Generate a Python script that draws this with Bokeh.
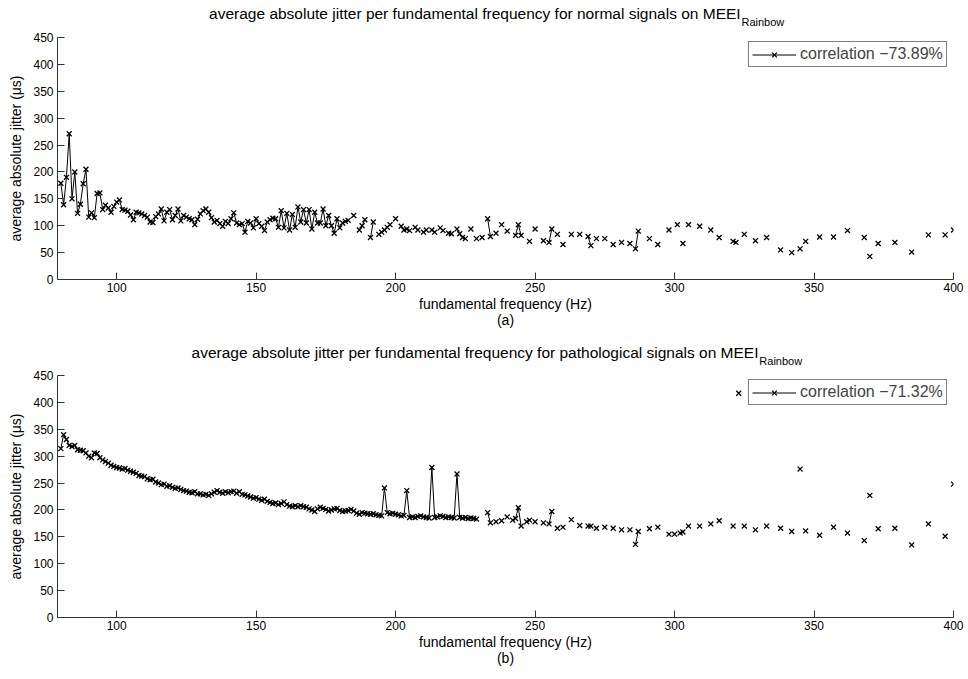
import numpy as np
from bokeh.plotting import figure
from bokeh.models import Range1d, FixedTicker, Legend, LegendItem
from bokeh.core.properties import value
from bokeh.layouts import column
from bokeh.embed import file_html
from bokeh.resources import INLINE

# ---------------- data ----------------
normal_freq = [80, 81, 82, 83, 84, 85, 86, 87, 88, 89, 90, 91, 92, 93, 94, 95, 96, 97, 98, 99,
               100, 101, 102, 103, 104, 105, 106, 107, 108, 109, 110, 111, 112, 113, 114, 115, 116, 117, 118, 119,
               120, 121, 122, 123, 124, 125, 126, 127, 128, 129, 130, 131, 132, 133, 134, 135, 136, 137, 138, 139,
               140, 141, 142, 143, 144, 145, 146, 147, 148, 149, 150, 151, 152, 153, 154, 155, 156, 157, 158, 159,
               160, 161, 162, 163, 164, 165, 166, 167, 168, 169, 170, 171, 172, 173, 174, 175, 176, 177, 178, 179,
               180, 181, 182, 183, 185, 187, 188, 189, 191, 192, 194, 195, 196, 197, 198, 200, 202, 203, 204, 205,
               207, 208, 210, 211, 213, 214, 216, 217, 219, 220, 222, 223, 224, 225, 227, 229, 231, 233, 234, 236,
               238, 240, 243, 244, 245, 248, 250, 253, 255, 256, 258, 260, 263, 266, 269, 270, 272, 275, 278, 281,
               284, 286, 287, 291, 294, 298, 301, 303, 305, 309, 313, 316, 321, 322, 325, 329, 333, 338, 342, 345,
               347, 352, 357, 362, 368, 370, 373, 379, 385, 391, 397, 400]
normal_jitter = [179, 139, 190, 271, 150, 200, 123, 140, 178, 205, 116, 124, 115, 160, 161, 130, 138, 133, 125, 136,
                 144, 148, 130, 129, 127, 120, 111, 125, 124, 122, 119, 116, 107, 106, 117, 122, 131, 109, 125, 130,
                 111, 119, 131, 109, 119, 116, 113, 111, 102, 112, 122, 128, 131, 125, 115, 107, 110, 104, 99, 108,
                 104, 113, 124, 105, 102, 104, 88, 108, 105, 96, 113, 104, 99, 91, 107, 111, 114, 113, 97, 128,
                 96, 123, 92, 121, 97, 135, 107, 130, 105, 130, 94, 125, 105, 105, 131, 100, 119, 100, 86, 113,
                 96, 105, 108, 110, 119, 92, 100, 111, 78, 107, 84, 88, 92, 97, 102, 113, 99, 92, 94, 91,
                 97, 92, 88, 92, 92, 88, 96, 91, 86, 85, 94, 85, 78, 76, 94, 76, 78, 113, 80, 86,
                 102, 90, 82, 102, 82, 71, 94, 72, 69, 94, 84, 65, 84, 84, 80, 63, 76, 76, 65, 69,
                 67, 57, 90, 76, 65, 92, 102, 67, 102, 99, 92, 78, 71, 69, 84, 72, 78, 55, 50, 57,
                 71, 79, 79, 91, 78, 43, 67, 69, 51, 83, 83, 92]

patho_freq = [80, 81, 82, 83, 84, 85, 86, 87, 88, 89, 90, 91, 92, 93, 94, 95, 96, 97, 98, 99,
              100, 101, 102, 103, 104, 105, 106, 107, 108, 109, 110, 111, 112, 113, 114, 115, 116, 117, 118, 119,
              120, 121, 122, 123, 124, 125, 126, 127, 128, 129, 130, 131, 132, 133, 134, 135, 136, 137, 138, 139,
              140, 141, 142, 143, 144, 145, 146, 147, 148, 149, 150, 151, 152, 153, 154, 155, 156, 157, 158, 159,
              160, 161, 162, 163, 164, 165, 166, 167, 168, 169, 170, 171, 172, 173, 174, 175, 176, 177, 178, 179,
              180, 181, 182, 183, 184, 185, 186, 187, 188, 189, 190, 191, 192, 193, 194, 195, 196, 197, 198, 199,
              200, 201, 202, 203, 204, 205, 206, 207, 208, 209, 210, 211, 212, 213, 214, 215, 216, 217, 218, 219,
              220, 221, 222, 223, 224, 225, 226, 227, 228, 229, 233, 234, 236, 238, 240, 242, 243, 244, 245, 247,
              248, 250, 253, 255, 256, 258, 260, 263, 266, 269, 270, 272, 275, 278, 281, 284, 286, 287, 291, 294,
              298, 300, 302, 303, 305, 309, 313, 316, 321, 323, 325, 329, 333, 338, 342, 345, 347, 352, 357, 362,
              368, 370, 373, 379, 385, 391, 397, 400]
patho_jitter = [314, 340, 331, 320, 318, 320, 312, 311, 310, 306, 300, 297, 306, 305, 297, 293, 290, 287, 283, 281,
                279, 278, 276, 277, 274, 272, 270, 268, 264, 263, 262, 258, 256, 257, 252, 250, 247, 248, 244, 245,
                242, 240, 241, 238, 236, 235, 233, 232, 234, 230, 230, 228, 229, 227, 230, 233, 236, 233, 231, 234,
                232, 234, 235, 231, 234, 229, 228, 226, 224, 222, 223, 220, 218, 220, 216, 214, 212, 213, 210, 212,
                215, 210, 207, 206, 208, 206, 208, 206, 205, 202, 200, 197, 202, 205, 203, 201, 198, 200, 202, 203,
                199, 197, 198, 199, 201, 198, 194, 192, 195, 194, 193, 192, 193, 191, 190, 189, 241, 195, 193, 194,
                192, 191, 189, 190, 236, 186, 187, 186, 188, 189, 187, 186, 185, 279, 186, 187, 189, 188, 186, 187,
                186, 185, 267, 186, 185, 186, 184, 185, 184, 183, 195, 176, 178, 180, 187, 181, 184, 204, 170, 178,
                181, 178, 176, 174, 197, 166, 168, 182, 171, 170, 170, 166, 168, 166, 163, 163, 136, 160, 165, 168,
                155, 155, 157, 159, 170, 170, 174, 180, 170, 417, 170, 163, 170, 166, 160, 276, 161, 153, 168, 157,
                143, 227, 165, 166, 135, 174, 151, 248]

x_ticks = [100, 150, 200, 250, 300, 350, 400]
y_ticks = [0, 50, 100, 150, 200, 250, 300, 350, 400, 450]

FONT = "Liberation Sans"
X_RANGE = (78.8, 400)


def with_gaps(freq, vals):
    xs, ys = [], []
    for i, (f, v) in enumerate(zip(freq, vals)):
        if i > 0 and f - freq[i - 1] > 1:
            xs.append(np.nan)
            ys.append(np.nan)
        xs.append(f)
        ys.append(v)
    return xs, ys


def make_title(main_text, split_x, height):
    t = figure(width=968, height=height, output_backend="svg", toolbar_location=None,
               x_range=Range1d(*X_RANGE), y_range=Range1d(0, 1),
               x_axis_type=None, y_axis_type=None,
               min_border_left=57, min_border_right=15, min_border_top=0, min_border_bottom=0)
    t.xgrid.visible = False
    t.ygrid.visible = False
    t.outline_line_color = None
    t.text(x=[split_x], y=[0.5], text=[main_text], text_align="right", text_baseline="middle",
           text_font=value(FONT), text_font_size="15.5px", text_color="black")
    t.text(x=[split_x + 0.3], y=[0.5 - 8.0 / height], text=["Rainbow"], text_align="left",
           text_baseline="middle", text_font=value(FONT), text_font_size="11px", text_color="black")
    return t


def make_panel(freq, vals, corr_text, tag, height, top_border):
    p = figure(width=968, height=height, output_backend="svg", toolbar_location=None,
               x_range=Range1d(*X_RANGE), y_range=Range1d(0, 450),
               min_border_left=57, min_border_right=15, min_border_top=top_border,
               min_border_bottom=height - top_border - 242)
    p.xgrid.visible = False
    p.ygrid.visible = False
    p.outline_line_color = None

    xs, ys = with_gaps(freq, vals)
    ln = p.line(xs, ys, line_color="black", line_width=1)
    sc = p.scatter(freq, vals, marker="x", size=7, line_color="black", line_width=1.3)

    p.xaxis.ticker = FixedTicker(ticks=x_ticks)
    p.yaxis.ticker = FixedTicker(ticks=y_ticks)
    for ax in (p.xaxis[0], p.yaxis[0]):
        ax.major_tick_in = 7
        ax.major_tick_out = 0
        ax.minor_tick_line_color = None
        ax.axis_line_color = "#333333"
        ax.major_tick_line_color = "#333333"
        ax.major_label_text_font = FONT
        ax.major_label_text_font_size = "12px"
        ax.major_label_text_color = "black"
        ax.axis_label_text_font = FONT
        ax.axis_label_text_font_size = "14px"
        ax.axis_label_text_font_style = "normal"
        ax.axis_label_text_color = "black"
    p.xaxis.axis_label = "fundamental frequency (Hz)\n" + tag
    p.xaxis.axis_label_text_line_height = 1.05
    p.yaxis.axis_label = "average absolute jitter (μs)"
    p.xaxis.major_label_standoff = 3
    p.xaxis.axis_label_standoff = 1
    p.yaxis.major_label_standoff = 4
    p.yaxis.axis_label_standoff = 6

    legend = Legend(items=[LegendItem(label=corr_text, renderers=[ln, sc])],
                    location=(691, 212), border_line_color="black", border_line_width=1,
                    label_text_font=FONT, label_text_font_size="16px",
                    glyph_width=44, glyph_height=17, label_height=17,
                    padding=3, spacing=0, margin=0, label_standoff=4,
                    background_fill_color="white", background_fill_alpha=1)
    p.add_layout(legend)
    return p


t1 = make_title("average absolute jitter per fundamental frequency for normal signals on MEEI", 323.7, 26)
p1 = make_panel(normal_freq, normal_jitter, "correlation −73.89%", "(a)", 313, 11)
t2 = make_title("average absolute jitter per fundamental frequency for pathological signals on MEEI", 330.1, 26)
p2 = make_panel(patho_freq, patho_jitter, "correlation −71.32%", "(b)", 314, 10)

layout = column(t1, p1, t2, p2, spacing=0)
open("out.html", "w").write(file_html(layout, INLINE))
